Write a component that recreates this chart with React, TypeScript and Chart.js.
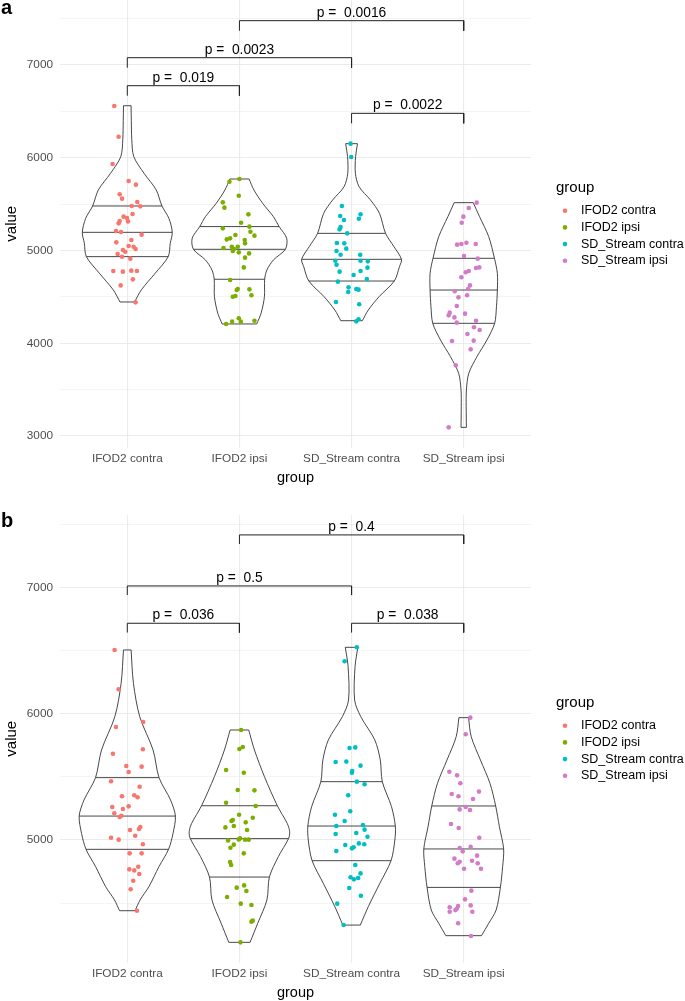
import React, { useEffect, useRef } from "react";
import { Chart, registerables } from "chart.js";

Chart.register(...registerables);

const FONT = '"Liberation Sans", Arial, Helvetica, sans-serif';
const GROUPS = ["IFOD2 contra", "IFOD2 ipsi", "SD_Stream contra", "SD_Stream ipsi"];
const GROUP_POS = [1, 2, 3, 4];
const COLORS = ["#F8766D", "#7CAE00", "#00BFC4", "#D27BC9"];

// ---------------- Panel a ----------------
const A_Y_TICKS = [3000, 3500, 4000, 4500, 5000, 5500, 6000, 6500, 7000, 7500];
const A_Y_RANGE = [2876, 7701];

const A_VALUES_IFOD2_CONTRA = [6558, 6227, 5933, 5749, 5710, 5606, 5559, 5523, 5480, 5476, 5394, 5318, 5365, 5350, 5314, 5293, 5210, 5199, 5171, 5113, 5088, 5048, 5041, 5016, 5005, 4987, 4962, 4933, 4912, 4779, 4772, 4783, 4779, 4689, 4624, 4441];
const A_JITTER_IFOD2_CONTRA = [-0.116, -0.077, -0.131, 0.012, 0.077, -0.068, -0.047, 0.089, 0.039, 0.116, 0.047, -0.068, -0.033, -0.003, 0.006, -0.077, -0.101, -0.056, 0.128, 0.036, -0.098, 0.012, 0.056, 0.074, -0.039, -0.018, -0.086, -0.047, 0.027, -0.125, -0.039, 0.036, 0.086, 0.05, -0.059, 0.074];
const A_VALUES_IFOD2_IPSI = [5742, 5771, 5591, 5519, 5462, 5390, 5300, 5257, 5203, 5160, 5239, 5167, 5131, 5120, 5113, 5077, 5027, 5041, 5016, 5041, 4995, 4980, 4969, 4923, 4818, 4682, 4585, 4574, 4581, 4517, 4502, 4509, 4207, 4233, 4269, 4233, 4243];
const A_JITTER_IFOD2_IPSI = [-0.089, 0, -0.006, -0.148, -0.134, 0.08, 0.015, 0.089, 0.098, 0.134, -0.148, -0.036, -0.083, -0.113, 0.047, 0.05, -0.142, -0.068, -0.05, -0.015, -0.059, -0.006, 0.086, 0.05, 0.039, -0.083, -0.015, -0.024, 0.089, 0.107, -0.059, -0.036, -0.119, -0.065, -0.006, 0.012, 0.134];
const A_VALUES_SD_CONTRA = [6152, 6008, 5480, 5372, 5329, 5390, 5343, 5253, 5228, 5185, 5081, 5077, 4995, 5020, 4955, 4955, 4890, 4890, 4883, 4847, 4772, 4815, 4779, 4736, 4693, 4664, 4603, 4585, 4578, 4553, 4445, 4420, 4258, 4236];
const A_JITTER_SD_CONTRA = [-0.009, -0.003, -0.086, -0.101, -0.068, 0.08, 0.065, -0.098, -0.107, -0.039, -0.131, -0.065, -0.134, -0.047, -0.098, 0.077, -0.145, 0.08, 0.145, -0.134, -0.107, 0.142, 0.08, 0.018, 0.136, -0.122, -0.027, 0.042, 0.062, -0.03, -0.139, 0.068, 0.062, 0.042];
const A_VALUES_SD_IPSI = [5516, 5458, 5365, 5300, 5063, 5070, 5084, 5070, 4941, 4912, 4711, 4765, 4779, 4811, 4818, 4624, 4585, 4560, 4495, 4517, 4402, 4330, 4301, 4279, 4319, 4222, 4243, 4172, 4143, 4100, 4024, 4028, 3934, 3762, 3093];
const A_JITTER_SD_IPSI = [0.116, 0.045, -0.003, -0.018, -0.059, -0.021, 0.024, 0.107, 0.003, 0.125, -0.021, 0.018, 0.045, 0.11, 0.139, 0.056, 0.039, -0.08, -0.047, 0.03, -0.062, -0.125, -0.134, -0.083, 0.012, -0.062, 0.11, 0.092, 0.142, 0.033, -0.104, 0.089, 0.062, -0.071, -0.134];

// violin density outlines: value levels and half-widths (category units)
const A_VIOLIN_LEVELS_IFOD2_CONTRA = [4445, 4575, 4755, 4934, 5078, 5196, 5347, 5480, 5653, 5833, 6012, 6200, 6400, 6561];
const A_VIOLIN_WIDTH_IFOD2_CONTRA = [0.065, 0.125, 0.249, 0.365, 0.383, 0.401, 0.371, 0.309, 0.258, 0.149, 0.058, 0.04, 0.036, 0.034];
const A_VIOLIN_LEVELS_IFOD2_IPSI = [4208, 4323, 4502, 4690, 4790, 4898, 5013, 5133, 5258, 5365, 5509, 5653, 5771];
const A_VIOLIN_WIDTH_IFOD2_IPSI = [0.154, 0.193, 0.223, 0.225, 0.245, 0.303, 0.41, 0.421, 0.354, 0.303, 0.207, 0.129, 0.086];
const A_VIOLIN_LEVELS_SD_CONTRA = [4243, 4358, 4502, 4671, 4826, 4905, 5041, 5185, 5401, 5544, 5688, 5832, 6012, 6152];
const A_VIOLIN_WIDTH_SD_CONTRA = [0.096, 0.149, 0.245, 0.381, 0.427, 0.445, 0.378, 0.303, 0.249, 0.169, 0.067, 0.034, 0.036, 0.053];
const A_VIOLIN_LEVELS_SD_IPSI = [3093, 3316, 3496, 3676, 3855, 4035, 4215, 4394, 4574, 4754, 4916, 5149, 5365, 5516];
const A_VIOLIN_WIDTH_SD_IPSI = [0.024, 0.022, 0.024, 0.045, 0.118, 0.207, 0.276, 0.292, 0.3, 0.3, 0.274, 0.223, 0.141, 0.085];
const A_QUARTILES = [[4934, 5196, 5480], [4690, 5013, 5258], [4671, 4905, 5185], [4215, 4574, 4916]];

const A_BRACKET_FROM = [1, 1, 3, 2];
const A_BRACKET_TO = [2, 3, 4, 4];
const A_BRACKET_Y = [6777, 7079, 6479, 7478];
const A_BRACKET_TIP = [6669, 6971, 6371, 7370];
const A_P_LABELS = ["p =  0.019", "p =  0.0023", "p =  0.0022", "p =  0.0016"];

// ---------------- Panel b ----------------
const B_Y_TICKS = [4500, 5000, 5500, 6000, 6500, 7000, 7500];
const B_Y_RANGE = [4028, 7579];

const B_VALUES_IFOD2_CONTRA = [6508, 6196, 5937, 5897, 5685, 5720, 5587, 5582, 5540, 5466, 5423, 5347, 5355, 5339, 5262, 5267, 5246, 5212, 5193, 5183, 5079, 5103, 5087, 5034, 5018, 5003, 4966, 4894, 4894, 4788, 4767, 4759, 4730, 4677, 4609, 4439];
const B_JITTER_IFOD2_CONTRA = [-0.113, -0.077, 0.142, -0.101, -0.128, 0.139, -0.009, 0.128, 0.012, -0.145, 0.11, -0.047, 0.062, 0.092, -0.134, 0.012, -0.039, -0.116, -0.053, -0.068, 0.024, 0.116, 0.104, 0.071, -0.145, -0.077, 0.139, 0.021, 0.128, 0.098, 0.018, 0.062, 0.107, 0.053, 0.03, 0.086];
const B_VALUES_IFOD2_IPSI = [5873, 5722, 5738, 5556, 5534, 5397, 5394, 5296, 5270, 5201, 5177, 5159, 5151, 5111, 5100, 5140, 5079, 4997, 5005, 5013, 5003, 5003, 4963, 4939, 4894, 4825, 4802, 4640, 4622, 4595, 4548, 4495, 4484, 4360, 4352, 4188];
const B_JITTER_IFOD2_IPSI = [0.015, 0, 0.03, -0.119, 0.039, -0.015, 0.134, -0.119, 0.145, -0.003, 0.119, -0.059, -0.071, -0.05, -0.125, 0.056, 0.068, -0.101, -0.006, 0.006, 0.05, 0.083, -0.05, -0.08, 0.039, -0.083, -0.074, 0.042, -0.024, 0.062, -0.11, 0.012, 0.107, 0.119, 0.107, 0.009];
const B_VALUES_SD_CONTRA = [6529, 6418, 5730, 5735, 5619, 5622, 5590, 5548, 5534, 5463, 5442, 5355, 5228, 5201, 5151, 5111, 5119, 5082, 5048, 5056, 5026, 4973, 4960, 4966, 4942, 4934, 4913, 4802, 4704, 4735, 4688, 4698, 4619, 4558, 4495, 4325];
const B_JITTER_SD_CONTRA = [0.047, -0.062, -0.018, 0.033, -0.142, -0.047, 0.08, 0.006, 0.003, 0.047, 0.116, -0.03, -0.012, -0.148, -0.062, -0.136, 0.101, 0.116, -0.142, 0.042, 0.142, 0.065, -0.056, 0.113, 0.018, 0.003, -0.136, 0.033, -0.009, 0.08, 0.021, 0.059, -0.021, 0.083, -0.128, -0.071];
const B_VALUES_SD_IPSI = [5971, 5839, 5542, 5513, 5450, 5365, 5347, 5325, 5384, 5243, 5262, 5238, 5127, 5095, 5018, 4936, 4947, 4910, 4852, 4828, 4815, 4836, 4876, 4815, 4772, 4772, 4598, 4529, 4481, 4466, 4476, 4455, 4431, 4444, 4431, 4339, 4238];
const B_JITTER_SD_IPSI = [0.059, 0.018, -0.128, -0.059, -0.03, -0.107, -0.047, 0.083, 0.136, -0.036, 0.018, 0.056, -0.113, -0.045, 0.139, -0.036, 0.062, -0.009, -0.083, -0.036, -0.053, 0.074, 0.119, 0.125, 0.003, 0.154, 0.068, 0.012, 0.062, -0.125, -0.05, -0.062, -0.125, -0.074, 0.077, -0.05, 0.065];

const B_VIOLIN_LEVELS_IFOD2_CONTRA = [4439, 4524, 4630, 4788, 4926, 5053, 5190, 5317, 5495, 5714, 5979, 6243, 6508];
const B_VIOLIN_WIDTH_IFOD2_CONTRA = [0.069, 0.114, 0.193, 0.282, 0.368, 0.408, 0.429, 0.386, 0.283, 0.23, 0.111, 0.055, 0.034];
const B_VIOLIN_LEVELS_IFOD2_IPSI = [4188, 4339, 4524, 4706, 4868, 5011, 5066, 5132, 5272, 5503, 5714, 5873];
const B_VIOLIN_WIDTH_IFOD2_IPSI = [0.095, 0.163, 0.245, 0.267, 0.347, 0.438, 0.448, 0.426, 0.338, 0.223, 0.134, 0.083];
const B_VIOLIN_LEVELS_SD_CONTRA = [4325, 4471, 4656, 4836, 5000, 5111, 5265, 5463, 5635, 5794, 5979, 6111, 6376, 6529];
const B_VIOLIN_WIDTH_SD_CONTRA = [0.078, 0.149, 0.252, 0.352, 0.386, 0.39, 0.356, 0.274, 0.256, 0.207, 0.082, 0.027, 0.031, 0.056];
const B_VIOLIN_LEVELS_SD_IPSI = [4241, 4339, 4444, 4624, 4788, 4929, 5106, 5270, 5450, 5635, 5820, 5971];
const B_VIOLIN_WIDTH_SD_IPSI = [0.159, 0.223, 0.289, 0.327, 0.347, 0.356, 0.318, 0.285, 0.234, 0.149, 0.067, 0.043];
const B_QUARTILES = [[4926, 5190, 5495], [4706, 5011, 5272], [4836, 5111, 5463], [4624, 4929, 5270]];

const B_BRACKET_FROM = [1, 1, 3, 2];
const B_BRACKET_TO = [2, 3, 4, 4];
const B_BRACKET_Y = [6720, 7016, 6720, 7421];
const B_BRACKET_TIP = [6646, 6944, 6646, 7349];
const B_P_LABELS = ["p =  0.036", "p =  0.5", "p =  0.038", "p =  0.4"];

type Panel = {
  letter: string;
  letterBaseline: number;
  padTop: number;
  yTicks: number[];
  yRange: number[];
  values: number[][];
  jitter: number[][];
  levels: number[][];
  widths: number[][];
  quartiles: number[][];
  bFrom: number[];
  bTo: number[];
  bY: number[];
  bTip: number[];
  pLabels: string[];
};

const PANEL_A: Panel = {
  letter: "a",
  letterBaseline: 17.5,
  padTop: 0,
  yTicks: A_Y_TICKS,
  yRange: A_Y_RANGE,
  values: [A_VALUES_IFOD2_CONTRA, A_VALUES_IFOD2_IPSI, A_VALUES_SD_CONTRA, A_VALUES_SD_IPSI],
  jitter: [A_JITTER_IFOD2_CONTRA, A_JITTER_IFOD2_IPSI, A_JITTER_SD_CONTRA, A_JITTER_SD_IPSI],
  levels: [A_VIOLIN_LEVELS_IFOD2_CONTRA, A_VIOLIN_LEVELS_IFOD2_IPSI, A_VIOLIN_LEVELS_SD_CONTRA, A_VIOLIN_LEVELS_SD_IPSI],
  widths: [A_VIOLIN_WIDTH_IFOD2_CONTRA, A_VIOLIN_WIDTH_IFOD2_IPSI, A_VIOLIN_WIDTH_SD_CONTRA, A_VIOLIN_WIDTH_SD_IPSI],
  quartiles: A_QUARTILES,
  bFrom: A_BRACKET_FROM,
  bTo: A_BRACKET_TO,
  bY: A_BRACKET_Y,
  bTip: A_BRACKET_TIP,
  pLabels: A_P_LABELS,
};

const PANEL_B: Panel = {
  letter: "b",
  letterBaseline: 21.7,
  padTop: 10,
  yTicks: B_Y_TICKS,
  yRange: B_Y_RANGE,
  values: [B_VALUES_IFOD2_CONTRA, B_VALUES_IFOD2_IPSI, B_VALUES_SD_CONTRA, B_VALUES_SD_IPSI],
  jitter: [B_JITTER_IFOD2_CONTRA, B_JITTER_IFOD2_IPSI, B_JITTER_SD_CONTRA, B_JITTER_SD_IPSI],
  levels: [B_VIOLIN_LEVELS_IFOD2_CONTRA, B_VIOLIN_LEVELS_IFOD2_IPSI, B_VIOLIN_LEVELS_SD_CONTRA, B_VIOLIN_LEVELS_SD_IPSI],
  widths: [B_VIOLIN_WIDTH_IFOD2_CONTRA, B_VIOLIN_WIDTH_IFOD2_IPSI, B_VIOLIN_WIDTH_SD_CONTRA, B_VIOLIN_WIDTH_SD_IPSI],
  quartiles: B_QUARTILES,
  bFrom: B_BRACKET_FROM,
  bTo: B_BRACKET_TO,
  bY: B_BRACKET_Y,
  bTip: B_BRACKET_TIP,
  pLabels: B_P_LABELS,
};

function interp(levels: number[], widths: number[], v: number): number {
  for (let i = 0; i < levels.length - 1; i++) {
    if (v >= levels[i] && v <= levels[i + 1]) {
      const t = (v - levels[i]) / (levels[i + 1] - levels[i]);
      return widths[i] + t * (widths[i + 1] - widths[i]);
    }
  }
  return v < levels[0] ? widths[0] : widths[widths.length - 1];
}

function buildDatasets(p: Panel) {
  const ds: any[] = [];
  p.values.forEach((vals, g) => {
    ds.push({
      label: GROUPS[g],
      data: vals.map((v, i) => ({ x: GROUP_POS[g] + p.jitter[g][i], y: v })),
      backgroundColor: COLORS[g],
      borderWidth: 0,
      pointRadius: 2.3,
      showLine: false,
      order: 0,
    });
  });
  const line = {
    showLine: true,
    pointRadius: 0,
    borderColor: "#333333",
    borderWidth: 0.9,
    fill: false,
    order: 1,
  };
  p.levels.forEach((lv, g) => {
    const hw = p.widths[g];
    const c = GROUP_POS[g];
    const n = lv.length - 1;
    ds.push({ ...line, tension: 0.3, data: lv.map((v, i) => ({ x: c + hw[i], y: v })) });
    ds.push({ ...line, tension: 0.3, data: lv.map((v, i) => ({ x: c - hw[i], y: v })) });
    ds.push({ ...line, tension: 0, data: [{ x: c - hw[0], y: lv[0] }, { x: c + hw[0], y: lv[0] }] });
    ds.push({ ...line, tension: 0, data: [{ x: c - hw[n], y: lv[n] }, { x: c + hw[n], y: lv[n] }] });
    p.quartiles[g].forEach((q) => {
      const w = interp(lv, hw, q);
      ds.push({ ...line, tension: 0, data: [{ x: c - w, y: q }, { x: c + w, y: q }] });
    });
  });
  p.bFrom.forEach((f, i) => {
    const t = p.bTo[i];
    ds.push({
      ...line,
      borderColor: "#222222",
      borderWidth: 1,
      tension: 0,
      data: [
        { x: f, y: p.bTip[i] },
        { x: f, y: p.bY[i] },
        { x: t, y: p.bY[i] },
        { x: t, y: p.bTip[i] },
      ],
    });
  });
  return ds;
}

function overlayPlugin(p: Panel) {
  return {
    id: "overlay" + p.letter,
    afterDraw(chart: any) {
      const { ctx, chartArea, scales } = chart;
      const xs = scales.x;
      const ys = scales.y;
      ctx.save();
      // p-value labels
      ctx.font = `13.8px ${FONT}`;
      ctx.fillStyle = "#000000";
      ctx.textAlign = "center";
      ctx.textBaseline = "alphabetic";
      p.bFrom.forEach((f, i) => {
        const px = xs.getPixelForValue((f + p.bTo[i]) / 2);
        const py = ys.getPixelForValue(p.bY[i]);
        ctx.fillText(p.pLabels[i], px, py - 4);
      });
      // legend
      const cy = (chartArea.top + chartArea.bottom) / 2;
      const lx = chartArea.right;
      ctx.textAlign = "left";
      ctx.textBaseline = "middle";
      ctx.font = `15px ${FONT}`;
      ctx.fillStyle = "#000000";
      ctx.fillText("group", lx + 25, cy - 36);
      ctx.font = `12.5px ${FONT}`;
      GROUPS.forEach((g, i) => {
        const iy = cy - 13 + i * 16.67;
        ctx.fillStyle = COLORS[i];
        ctx.beginPath();
        ctx.arc(lx + 34, iy, 2.3, 0, Math.PI * 2);
        ctx.fill();
        ctx.fillStyle = "#000000";
        ctx.fillText(g, lx + 50, iy);
      });
      // panel letter
      ctx.font = `bold 20px ${FONT}`;
      ctx.textBaseline = "alphabetic";
      ctx.fillText(p.letter, 1, p.letterBaseline);
      ctx.restore();
    },
  };
}

function buildConfig(p: Panel): any {
  return {
    type: "scatter",
    data: { datasets: buildDatasets(p) },
    options: {
      responsive: false,
      animation: false,
      events: [],
      layout: { padding: { left: 0, right: 154, top: p.padTop, bottom: 0 } },
      plugins: {
        legend: { display: false },
        tooltip: { enabled: false },
        title: { display: false },
      },
      scales: {
        x: {
          type: "linear",
          min: 0.4,
          max: 4.6,
          afterBuildTicks: (s: any) => {
            s.ticks = GROUP_POS.map((v) => ({ value: v }));
          },
          afterFit: (s: any) => {
            s.height = 38.5;
            s.paddingLeft = 0;
            s.paddingRight = 0;
          },
          ticks: {
            autoSkip: false,
            maxRotation: 0,
            minRotation: 0,
            padding: 4.5,
            color: "#4d4d4d",
            font: { family: FONT, size: 11.8 },
            callback: (v: number) => GROUPS[Math.round(v) - 1] ?? "",
          },
          grid: { color: "#ebebeb", lineWidth: 1.1, drawTicks: false },
          border: { display: false },
          title: {
            display: true,
            text: "group",
            color: "#000000",
            font: { family: FONT, size: 14.5, lineHeight: 1.1 },
            padding: { top: 0, bottom: 0 },
          },
        },
        y: {
          type: "linear",
          min: p.yRange[0],
          max: p.yRange[1],
          afterBuildTicks: (s: any) => {
            s.ticks = p.yTicks.map((v) => ({ value: v }));
          },
          afterFit: (s: any) => {
            s.width = 60;
            s.paddingTop = 0;
            s.paddingBottom = 0;
          },
          ticks: {
            autoSkip: false,
            padding: 7,
            color: "#4d4d4d",
            font: { family: FONT, size: 11.8 },
            callback: (v: number) => (v % 1000 === 0 ? String(v) : ""),
          },
          grid: {
            color: "#ebebeb",
            lineWidth: (ctx: any) => (ctx.tick && ctx.tick.value % 1000 === 0 ? 1.1 : 0.55),
            drawTicks: false,
          },
          border: { display: false },
          title: {
            display: true,
            text: "value",
            color: "#000000",
            font: { family: FONT, size: 15, lineHeight: 1.1 },
            padding: { top: 4, bottom: 0 },
          },
        },
      },
    },
    plugins: [overlayPlugin(p)],
  };
}

function PanelChart({ panel, top, height }: { panel: Panel; top: number; height: number }) {
  const ref = useRef<HTMLCanvasElement | null>(null);
  useEffect(() => {
    if (!ref.current) return;
    const chart = new Chart(ref.current, buildConfig(panel));
    return () => chart.destroy();
  }, [panel]);
  return (
    <canvas
      ref={ref}
      width={685}
      height={height}
      style={{ position: "absolute", left: 0, top, width: 685, height, display: "block" }}
    />
  );
}

export default function App() {
  return (
    <div style={{ position: "absolute", left: 0, top: 0, width: 685, height: 1001, background: "#ffffff", overflow: "hidden" }}>
      <PanelChart panel={PANEL_A} top={-4} height={490} />
      <PanelChart panel={PANEL_B} top={505} height={496} />
    </div>
  );
}
